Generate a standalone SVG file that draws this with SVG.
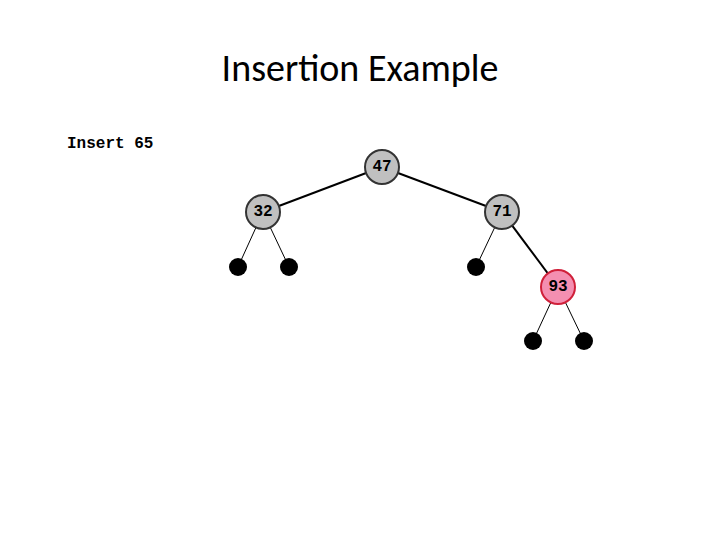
<svg xmlns="http://www.w3.org/2000/svg" width="720" height="540" viewBox="0 0 720 540">
<style>
.n{fill:#c0c0c0;stroke:#333;stroke-width:2}
.r{fill:#f48fb1;stroke:#d0203a;stroke-width:2}
.l{fill:#000}
.t{font-family:"Liberation Mono",monospace;font-weight:bold;font-size:16px;text-anchor:middle;dominant-baseline:central}
.thick{stroke:#000;stroke-width:2}
.thin{stroke:#000;stroke-width:1}
</style>
<rect width="720" height="540" fill="#fff"/>
<text x="360" y="81" font-family="Calibri,Carlito,'Open Sans',sans-serif" font-size="38" text-anchor="middle">Insertion Example</text>
<text x="67" y="148" font-family="'Liberation Mono',monospace" font-weight="bold" font-size="16">Insert 65</text>
<g id="edges">
<line class="thick" x1="382" y1="167" x2="263" y2="212"/>
<line class="thick" x1="382" y1="167" x2="502" y2="212"/>
<line class="thick" x1="502" y1="212" x2="558" y2="287"/>
<line class="thin" x1="263" y1="212" x2="238" y2="267"/>
<line class="thin" x1="263" y1="212" x2="289" y2="267"/>
<line class="thin" x1="502" y1="212" x2="476" y2="267"/>
<line class="thin" x1="558" y1="287" x2="533" y2="341"/>
<line class="thin" x1="558" y1="287" x2="584" y2="341"/>
</g>
<g id="n47"><circle class="n" cx="382" cy="167" r="17"/><text class="t" x="382" y="167">47</text></g>
<g id="n32"><circle class="n" cx="263" cy="212" r="17"/><text class="t" x="263" y="212">32</text></g>
<g id="n71"><circle class="n" cx="502" cy="212" r="17"/><text class="t" x="502" y="212">71</text></g>
<g id="n93"><circle class="r" cx="558" cy="287" r="17"/><text class="t" x="558" y="287">93</text></g>
<g id="leaf1"><circle class="l" cx="238" cy="267" r="9"/></g>
<g id="leaf2"><circle class="l" cx="289" cy="267" r="9"/></g>
<g id="leaf3"><circle class="l" cx="476" cy="267" r="9"/></g>
<g id="leaf4"><circle class="l" cx="533" cy="341" r="9"/></g>
<g id="leaf5"><circle class="l" cx="584" cy="341" r="9"/></g>
</svg>
